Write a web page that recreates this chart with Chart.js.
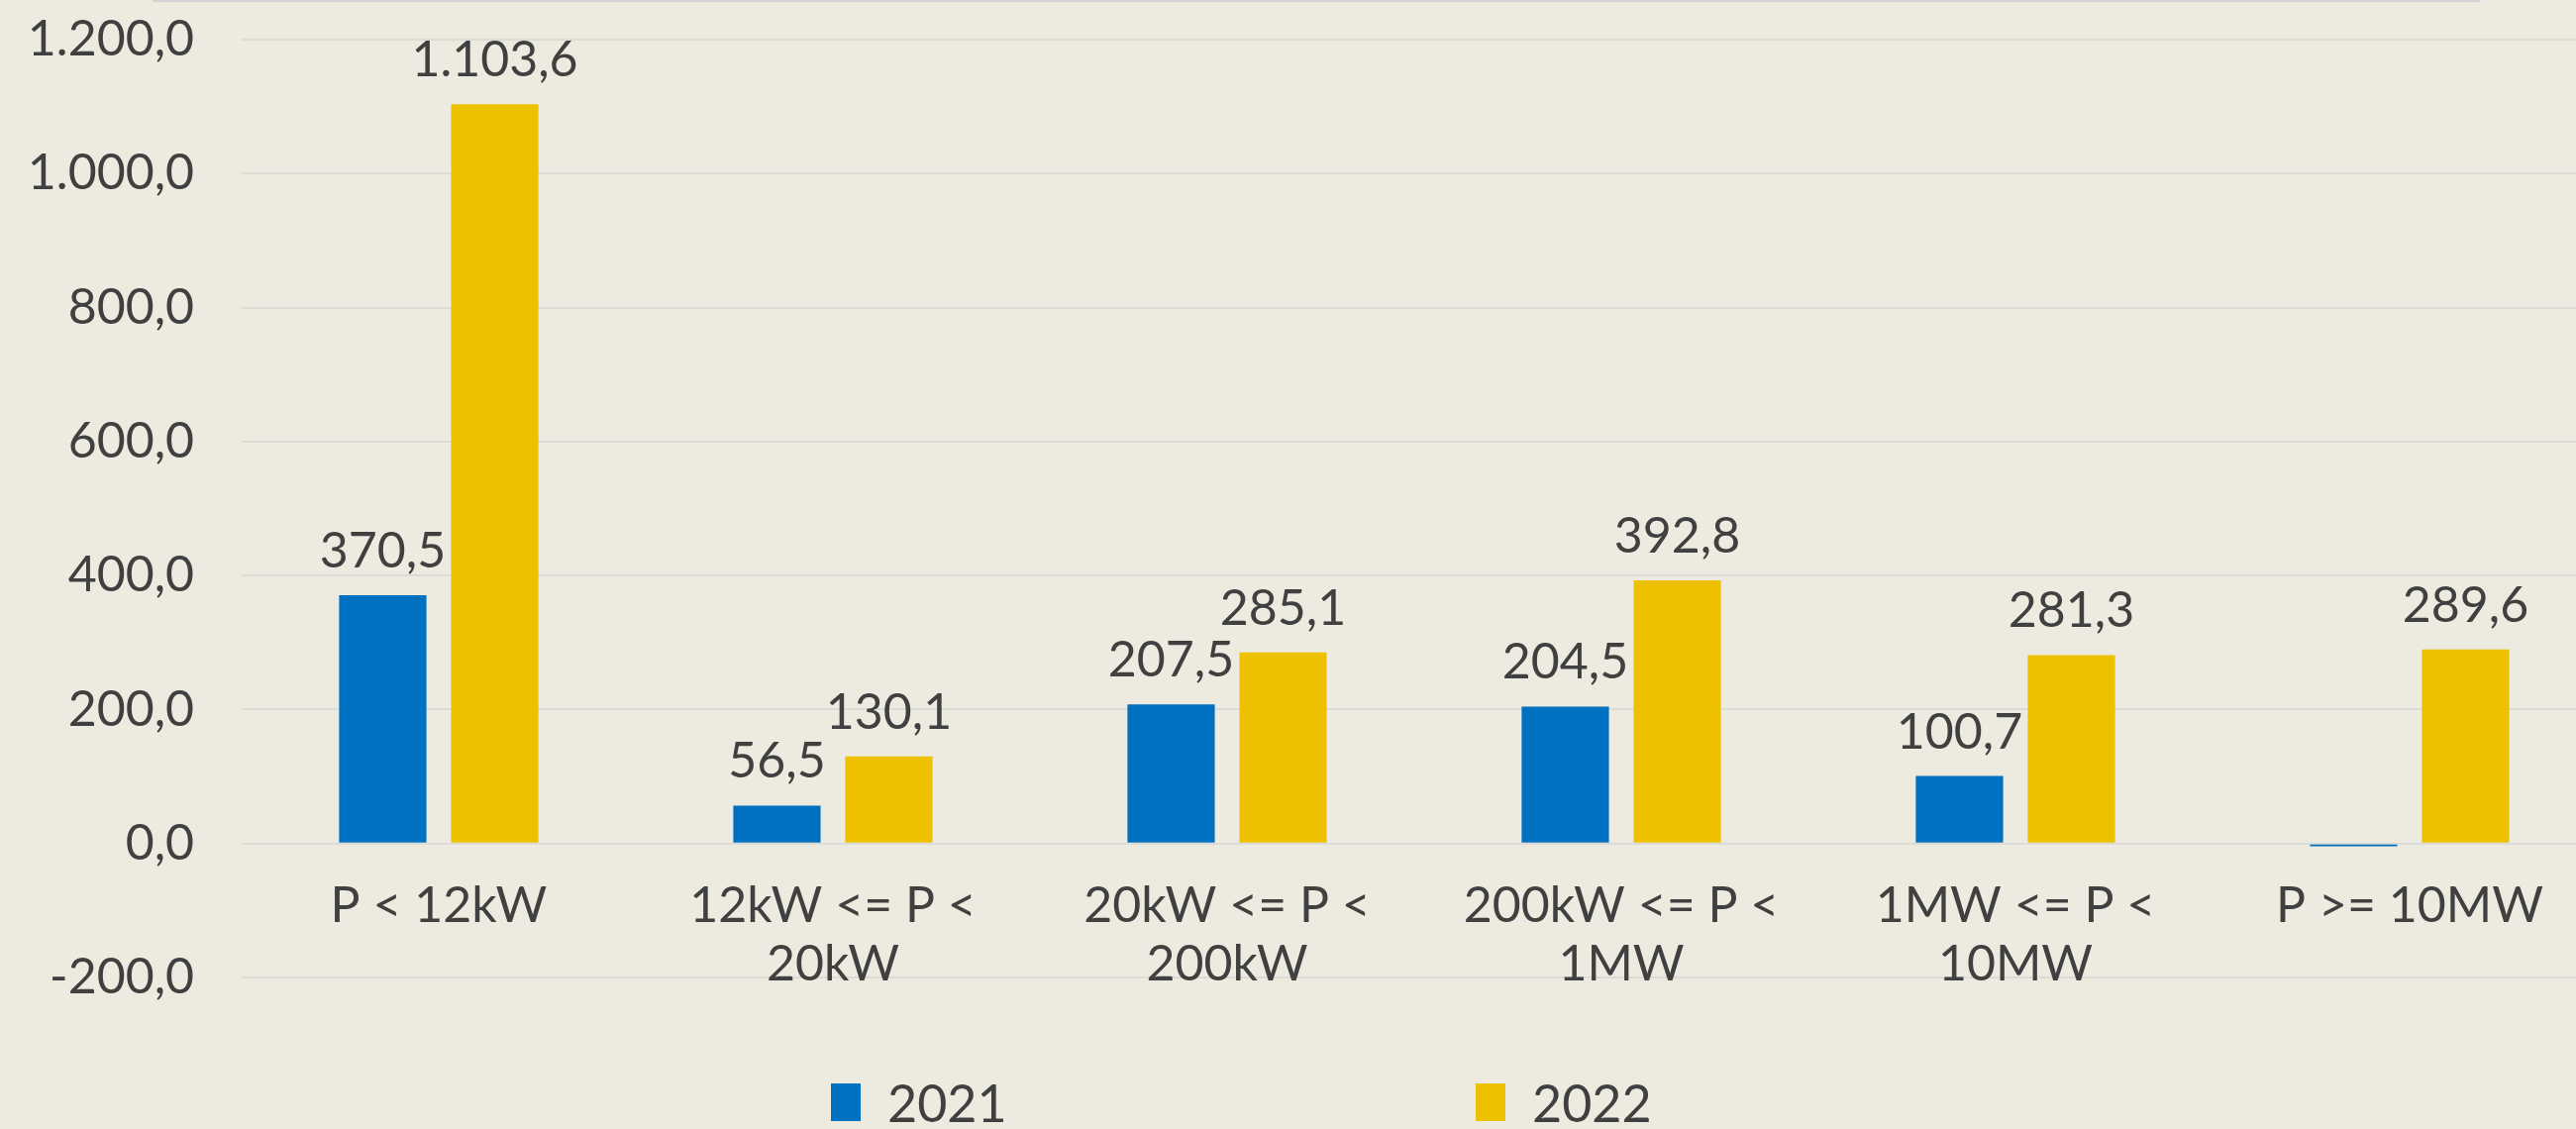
<!DOCTYPE html>
<html>
<head>
<meta charset="utf-8">
<script src="https://cdn.jsdelivr.net/npm/chart.js@4.4.1/dist/chart.umd.min.js"></script>
<style>
    html, body { margin: 0; padding: 0; overflow: hidden; background: #EDEADF; }
    #wrap { position: relative; width: 2632px; height: 1140px; }
    #topline { position: absolute; left: 154px; top: 0; width: 2350px; height: 2px; background: #d3d3d6; }
    #legend { position: absolute; top: 1082px; left: 0; width: 2632px; height: 58px; }
    .item { position: absolute; top: 0; display: flex; align-items: center; font-family: Lato, sans-serif; font-size: 52px; color: #404040; }
    .box { width: 30px; height: 38px; margin-right: 27px; }
</style>
</head>
<body>
<div id="wrap">
    <canvas id="chart"></canvas>
    <div id="topline"></div>
    <div id="legend"></div>
</div>
<script>
// Chart data
const categories = [
    'P < 12kW',
    ['12kW <= P <', '20kW'],
    ['20kW <= P <', '200kW'],
    ['200kW <= P <', '1MW'],
    ['1MW <= P <', '10MW'],
    'P >= 10MW'
];
const series2021 = [370.5, 56.5, 207.5, 204.5, 100.7, -4];
const series2022 = [1103.6, 130.1, 285.1, 392.8, 281.3, 289.6];
const seriesNames = ['2021', '2022'];
const seriesColors = ['#0070C0', '#EDC100'];
const yTicks = [-200, 0, 200, 400, 600, 800, 1000, 1200];

const textColor = '#404040';
const fontFamily = 'Lato, sans-serif';

// 1.103,6 style numbers
function formatNumber(v) {
    const neg = v < 0;
    const parts = Math.abs(v).toFixed(1).split('.');
    const intPart = parts[0].replace(/\B(?=(\d{3})+(?!\d))/g, '.');
    return (neg ? '-' : '') + intPart + ',' + parts[1];
}

// value labels above the bars (negative ones are not labelled)
const valueLabels = {
    id: 'valueLabels',
    afterDatasetsDraw(chart) {
        const ctx = chart.ctx;
        ctx.save();
        ctx.font = '50px ' + fontFamily;
        ctx.fillStyle = textColor;
        ctx.textAlign = 'center';
        ctx.textBaseline = 'alphabetic';
        chart.data.datasets.forEach((ds, i) => {
            const meta = chart.getDatasetMeta(i);
            meta.data.forEach((bar, j) => {
                const v = ds.data[j];
                if (v < 0) return;
                ctx.fillText(formatNumber(v), bar.x, bar.y - 28);
            });
        });
        ctx.restore();
    }
};

const canvas = document.getElementById('chart');
canvas.style.width = '2632px';
canvas.style.height = '1140px';

new Chart(canvas, {
    type: 'bar',
    data: {
        labels: categories,
        datasets: [
            { label: seriesNames[0], data: series2021, backgroundColor: seriesColors[0] },
            { label: seriesNames[1], data: series2022, backgroundColor: seriesColors[1] }
        ]
    },
    options: {
        responsive: false,
        animation: false,
        layout: { padding: { top: 40, bottom: 153, left: 0, right: 0 } },
        datasets: {
            bar: { categoryPercentage: 0.568, barPercentage: 0.78 }
        },
        scales: {
            x: {
                position: { y: 0 },
                grid: { display: false, drawTicks: false },
                border: { display: false },
                ticks: {
                    color: textColor,
                    font: { family: fontFamily, size: 50, lineHeight: 1.18 },
                    padding: 34,
                    maxRotation: 0,
                    autoSkip: false
                }
            },
            y: {
                min: yTicks[0],
                max: yTicks[yTicks.length - 1],
                afterBuildTicks(scale) {
                    scale.ticks = yTicks.map(v => ({ value: v }));
                },
                afterFit(scale) {
                    // fixed axis width, and no extra room above/below the plot
                    scale.width = 244;
                    scale.paddingTop = 0;
                    scale.paddingBottom = 0;
                },
                grid: { color: '#dcdcd6', lineWidth: 2, drawTicks: false },
                border: { display: false },
                ticks: {
                    color: textColor,
                    font: { family: fontFamily, size: 50 },
                    padding: 48,
                    callback: v => formatNumber(v)
                }
            }
        },
        plugins: {
            legend: { display: false },
            tooltip: { enabled: false }
        }
    },
    plugins: [valueLabels]
});

// legend below the plot
const legendPos = [839, 1490];
const legend = document.getElementById('legend');
seriesNames.forEach((name, i) => {
    const item = document.createElement('div');
    item.className = 'item';
    item.style.left = legendPos[i] + 'px';
    item.innerHTML = '<div class="box" style="background:' + seriesColors[i] + '"></div>' + name;
    legend.appendChild(item);
});
</script>
</body>
</html>
